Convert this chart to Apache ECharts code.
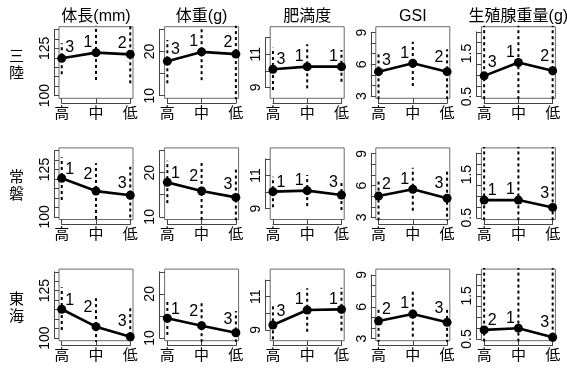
<!DOCTYPE html>
<html><head><meta charset="utf-8">
<script src="https://cdn.jsdelivr.net/npm/echarts@6/dist/echarts.min.js"></script>
<style>html,body{margin:0;padding:0;background:#fff}#c{width:567px;height:369px}</style>
</head><body><div id="c"></div><script>
// ---- categories / labels ----
const groups = ['高', '中', '低'];
const regions = ['三陸', '常磐', '東海'];
const metrics = ['体長(mm)', '体重(g)', '肥満度', 'GSI', '生殖腺重量(g)'];

// ---- y axis ticks per metric ----
const yTickMin = [100, 10, 9, 3, 0.5];
const yTickMax = [135, 25, 12, 9, 2.0];
const yTickStep = [5, 5, 1, 1, 0.25];
const yTickLabels = [[100, 125], [10, 20], [9, 11], [3, 6, 9], [0.5, 1.5]];
const yBoxMin = [98.6, 9.4, 8.34, 2.8, 0.46];
const yBoxMax = [136.4, 25.6, 12.66, 9.55, 2.12];

// ---- data (per metric: 高, 中, 低) ----
const sanrikuMean = [[119.7, 122.7, 121.8], [17.8, 19.9, 19.4], [10.09, 10.25, 10.25], [5.31, 6.1, 5.31], [0.98, 1.29, 1.10]];
const sanrikuLow  = [[111.3, 108.3, 106.5], [12.8, 13.5, 9.0], [8.84, 8.94, 9.34], [2.7, 3.96, 2.7], [0.3, 0.3, 0.3]];
const sanrikuHigh = [[127.6, 137.5, 137.5], [22.6, 25.0, 26.0], [11.39, 11.6, 11.25], [7.2, 8.13, 7.42], [2.2, 2.3, 2.2]];
const sanrikuRank = [[3, 1, 2], [3, 1, 2], [3, 1, 1], [3, 1, 2], [3, 1, 2]];

const jobanMean = [[120.35, 113.6, 111.4], [17.8, 15.85, 14.4], [10.02, 10.08, 9.82], [5.01, 5.65, 4.8], [0.91, 0.91, 0.74]];
const jobanLow  = [[108.9, 98.9, 96.5], [13.1, 9.3, 7.8], [9.08, 9.15, 8.91], [2.7, 3.63, 2.5], [0.3, 0.3, 0.3]];
const jobanHigh = [[131.4, 128.3, 126.5], [22.7, 22.25, 21.0], [10.92, 11.03, 10.72], [6.43, 7.68, 7.47], [2.2, 2.2, 2.2]];
const jobanRank = [[1, 2, 3], [1, 2, 3], [1, 1, 3], [2, 1, 3], [1, 1, 3]];

const tokaiMean = [[115.2, 106.0, 100.7], [14.47, 12.8, 11.2], [9.29, 10.19, 10.23], [4.66, 5.32, 4.53], [0.71, 0.75, 0.54]];
const tokaiLow  = [[104.25, 91.0, 85.7], [10.7, 7.7, 6.3], [8.42, 8.88, 8.94], [2.6, 3.18, 2.6], [0.3, 0.3, 0.3]];
const tokaiHigh = [[126.8, 121.0, 115.7], [18.2, 17.86, 16.1], [10.6, 11.5, 11.54], [6.0, 7.42, 6.0], [2.2, 2.2, 2.2]];
const tokaiRank = [[1, 2, 3], [1, 2, 3], [3, 1, 1], [2, 1, 3], [2, 1, 3]];

const allMean = [sanrikuMean, jobanMean, tokaiMean];
const allLow = [sanrikuLow, jobanLow, tokaiLow];
const allHigh = [sanrikuHigh, jobanHigh, tokaiHigh];
const allRank = [sanrikuRank, jobanRank, tokaiRank];

// ---- layout ----
const FONT = '"Liberation Sans", Arial, "Noto Sans CJK JP", sans-serif';
const colCenter0 = 96, colStep = 105.6, boxW = 74;
const rowTop = [26.7, 147.9, 269.1], boxH = 71.6;
const X_MIN = 0.92, X_MAX = 3.08;
const AX_GAP = 5;
const boxColor = '#6a6a6a', axisColor = '#444';

const grids = [], xAxes = [], yAxes = [], series = [], graphics = [];

for (let r = 0; r < 3; r++) {
  for (let m = 0; m < 5; m++) {
    const left = colCenter0 + m * colStep - boxW / 2;
    const top = rowTop[r];
    const gi = grids.length;
    grids.push({ left, top, width: boxW, height: boxH, show: true, borderColor: boxColor, borderWidth: 1, backgroundColor: 'transparent' });
    xAxes.push({ gridIndex: gi, type: 'value', min: X_MIN, max: X_MAX, show: false });
    yAxes.push({ gridIndex: gi, type: 'value', min: yBoxMin[m], max: yBoxMax[m], show: false });

    const span = yBoxMax[m] - yBoxMin[m];
    const insetTop = (yBoxMax[m] - yTickMax[m]) / span * boxH;
    const insetBot = (yTickMin[m] - yBoxMin[m]) / span * boxH;
    const pxu = boxW / (X_MAX - X_MIN);
    const insetL = (1 - X_MIN) * pxu;
    const ai = grids.length;
    grids.push({ left: left + insetL, top: top + insetTop, width: 2 * pxu, height: boxH - insetTop - insetBot, show: false });
    xAxes.push({
      gridIndex: ai, type: 'value', min: 1, max: 3, interval: 1, position: 'bottom', offset: insetBot + AX_GAP,
      axisLine: { show: true, lineStyle: { color: axisColor, width: 1 } },
      axisTick: { show: true, inside: true, length: AX_GAP, lineStyle: { color: axisColor, width: 1 } },
      axisLabel: { formatter: v => groups[Math.round(v) - 1] || '', fontSize: 15, color: '#000', margin: 3, fontFamily: FONT },
      splitLine: { show: false }
    });
    const labs = yTickLabels[m];
    yAxes.push({
      gridIndex: ai, type: 'value', min: yTickMin[m], max: yTickMax[m], interval: yTickStep[m], position: 'left', offset: insetL + AX_GAP,
      axisLine: { show: true, lineStyle: { color: axisColor, width: 1 } },
      axisTick: { show: true, inside: true, length: AX_GAP, lineStyle: { color: axisColor, width: 1 } },
      axisLabel: {
        rotate: 90, fontSize: 14, color: '#000', margin: 2, fontFamily: FONT, showMinLabel: true, showMaxLabel: true,
        formatter: v => labs.some(t => Math.abs(t - v) < 1e-9) ? String(v) : ''
      },
      splitLine: { show: false }
    });

    const mean = allMean[r][m], lo = allLow[r][m], hi = allHigh[r][m], rk = allRank[r][m];
    // error bars (dotted)
    for (let i = 0; i < 3; i++) {
      series.push({
        type: 'line', xAxisIndex: gi, yAxisIndex: gi, silent: true, symbol: 'none', clip: true,
        data: [[i + 1, lo[i]], [i + 1, hi[i]]],
        lineStyle: { color: '#000', width: 2, type: [3, 3] }, z: 2
      });
    }
    // label offsets (avoid the line)
    const yPx = v => (yBoxMax[m] - v) / span * boxH;
    const pts = mean.map((v, i) => {
      let dx, dy;
      if (i === 0) {
        const rise = yPx(mean[0]) - yPx(mean[1]);
        dx = 8; dy = -9 - 0.3 * Math.max(0, rise);
      } else {
        const drop = yPx(mean[i]) - yPx(mean[i - 1]);
        dx = -8; dy = -10 - 0.5 * Math.max(0, drop);
      }
      return { value: [i + 1, v], label: { offset: [dx, dy] } };
    });
    series.push({
      type: 'line', xAxisIndex: gi, yAxisIndex: gi, silent: true, clip: false,
      data: pts,
      symbol: 'circle', symbolSize: 9, showSymbol: true,
      itemStyle: { color: '#000' },
      lineStyle: { color: '#000', width: 2.6 },
      label: {
        show: true, position: 'inside', fontSize: 16, color: '#000', fontFamily: FONT,
        align: 'center', verticalAlign: 'middle',
        formatter: p => String(rk[p.dataIndex])
      },
      z: 3
    });
  }
}

// column titles
metrics.forEach((t, m) => {
  graphics.push({
    type: 'text', x: colCenter0 + m * colStep, y: 17,
    style: { text: t, fontSize: 16, fontFamily: FONT, fill: '#000', align: 'center', verticalAlign: 'middle', textAlign: 'center', textVerticalAlign: 'middle' }
  });
});
// row labels
regions.forEach((t, r) => {
  graphics.push({
    type: 'text', x: 16.5, y: rowTop[r] + boxH / 2 + 3,
    style: { text: t.split('').join('\n'), fontSize: 15, lineHeight: 17, fontFamily: FONT, fill: '#000', align: 'center', verticalAlign: 'middle', textAlign: 'center', textVerticalAlign: 'middle' }
  });
});

const chart = echarts.init(document.getElementById('c'), null, { renderer: 'canvas' });
chart.setOption({
  animation: false,
  backgroundColor: '#fff',
  grid: grids, xAxis: xAxes, yAxis: yAxes, series,
  graphic: graphics
});
</script></body></html>
